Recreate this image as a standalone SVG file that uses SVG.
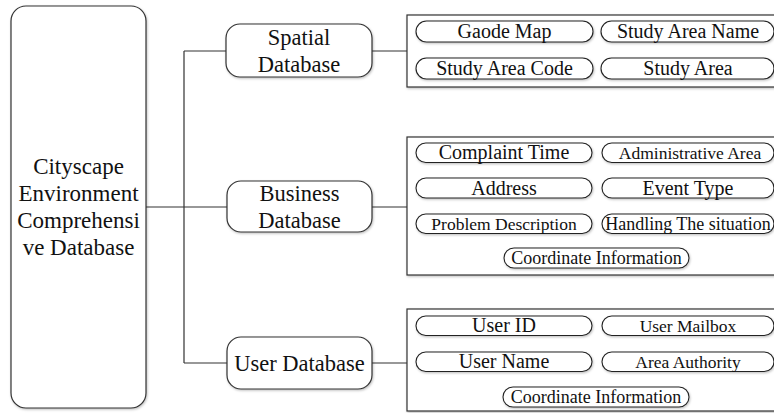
<svg xmlns="http://www.w3.org/2000/svg" width="774" height="413" viewBox="0 0 774 413">
<defs>
<filter id="sh" x="-5%" y="-5%" width="115%" height="130%">
<feDropShadow dx="0.8" dy="1.2" stdDeviation="0.8" flood-color="#000" flood-opacity="0.25"/>
</filter>
</defs>
<style>
.box{fill:#fff;stroke:#333;stroke-width:1.2;filter:url(#sh)}
.panel{fill:#fff;stroke:#333;stroke-width:1.2;filter:url(#sh)}
.pill{fill:#fff;stroke:#222;stroke-width:1.1;filter:url(#sh)}
.conn{fill:none;stroke:#333;stroke-width:1.2}
text{fill:#111;text-anchor:middle}
.big{font-size:23px}
.db{font-size:22.5px}
.p20{font-size:20px}
.p17{font-size:17.5px}
.p18{font-size:18px}
</style>
<rect x="0" y="0" width="774" height="413" fill="#fff"/>
<g id="connectors">
<path class="conn" d="M146,207H184M184,51V363M184,51H226M184,207H227M184,363H227M372,51H407M372,207H407M372,363H407"/>
</g>
<g font-family="Liberation Serif, Times New Roman, serif">
<g id="main">
<rect class="box" x="11" y="6" width="135" height="402" rx="15"/>
<text class="big" x="78.5" y="174">Cityscape</text>
<text class="big" x="78.5" y="201">Environment</text>
<text class="big" x="78.5" y="228">Comprehensi</text>
<text class="big" x="78.5" y="255">ve Database</text>
</g>
<g id="spatial">
<rect class="box" x="226" y="24" width="146" height="53" rx="14"/>
<text class="db" x="299" y="45">Spatial</text>
<text class="db" x="299" y="72">Database</text>
</g>
<g id="business">
<rect class="box" x="227" y="181" width="145" height="51" rx="14"/>
<text class="db" x="299.5" y="201">Business</text>
<text class="db" x="299.5" y="228">Database</text>
</g>
<g id="user">
<rect class="box" x="227" y="337" width="145" height="52" rx="14"/>
<text class="db" x="299.5" y="371">User Database</text>
</g>
<g id="spatial-fields">
<rect class="panel" x="407" y="15" width="400" height="72"/>
<rect class="pill" x="416" y="21" width="177" height="21" rx="10.5"/>
<text class="p20" x="504.5" y="38">Gaode Map</text>
<rect class="pill" x="601" y="21" width="173" height="21" rx="10.5"/>
<text class="p20" x="688" y="38">Study Area Name</text>
<rect class="pill" x="416" y="58" width="177" height="21" rx="10.5"/>
<text class="p20" x="504.5" y="75">Study Area Code</text>
<rect class="pill" x="601" y="58" width="173" height="21" rx="10.5"/>
<text class="p20" x="688" y="75">Study Area</text>
</g>
<g id="business-fields">
<rect class="panel" x="407" y="137" width="400" height="138"/>
<rect class="pill" x="416" y="143" width="176" height="19.5" rx="9.75"/>
<text class="p20" x="504" y="159">Complaint Time</text>
<rect class="pill" x="602" y="143" width="172" height="19.5" rx="9.75"/>
<text class="p17" x="690" y="158.5">Administrative Area</text>
<rect class="pill" x="416" y="178" width="176" height="20" rx="10"/>
<text class="p20" x="504" y="194.5">Address</text>
<rect class="pill" x="602" y="178" width="172" height="20" rx="10"/>
<text class="p20" x="688" y="194.5">Event Type</text>
<rect class="pill" x="416" y="214" width="176" height="19.5" rx="9.75"/>
<text class="p17" x="504" y="230">Problem Description</text>
<rect class="pill" x="602" y="214" width="172" height="19.5" rx="9.75"/>
<text class="p18" x="688" y="230">Handling The situation</text>
<rect class="pill" x="504" y="248" width="185" height="20" rx="10"/>
<text class="p18" x="596.5" y="264">Coordinate Information</text>
</g>
<g id="user-fields">
<rect class="panel" x="407" y="309" width="400" height="102"/>
<rect class="pill" x="416" y="316" width="176" height="19.5" rx="9.75"/>
<text class="p20" x="504" y="332">User ID</text>
<rect class="pill" x="602" y="316" width="172" height="19.5" rx="9.75"/>
<text class="p17" x="688" y="331.5">User Mailbox</text>
<rect class="pill" x="416" y="352" width="176" height="19.5" rx="9.75"/>
<text class="p20" x="504" y="368">User Name</text>
<rect class="pill" x="602" y="352" width="172" height="19.5" rx="9.75"/>
<text class="p17" x="688" y="367.5">Area Authority</text>
<rect class="pill" x="503" y="387" width="186" height="20" rx="10"/>
<text class="p18" x="596" y="403">Coordinate Information</text>
</g>
</g>
</svg>
